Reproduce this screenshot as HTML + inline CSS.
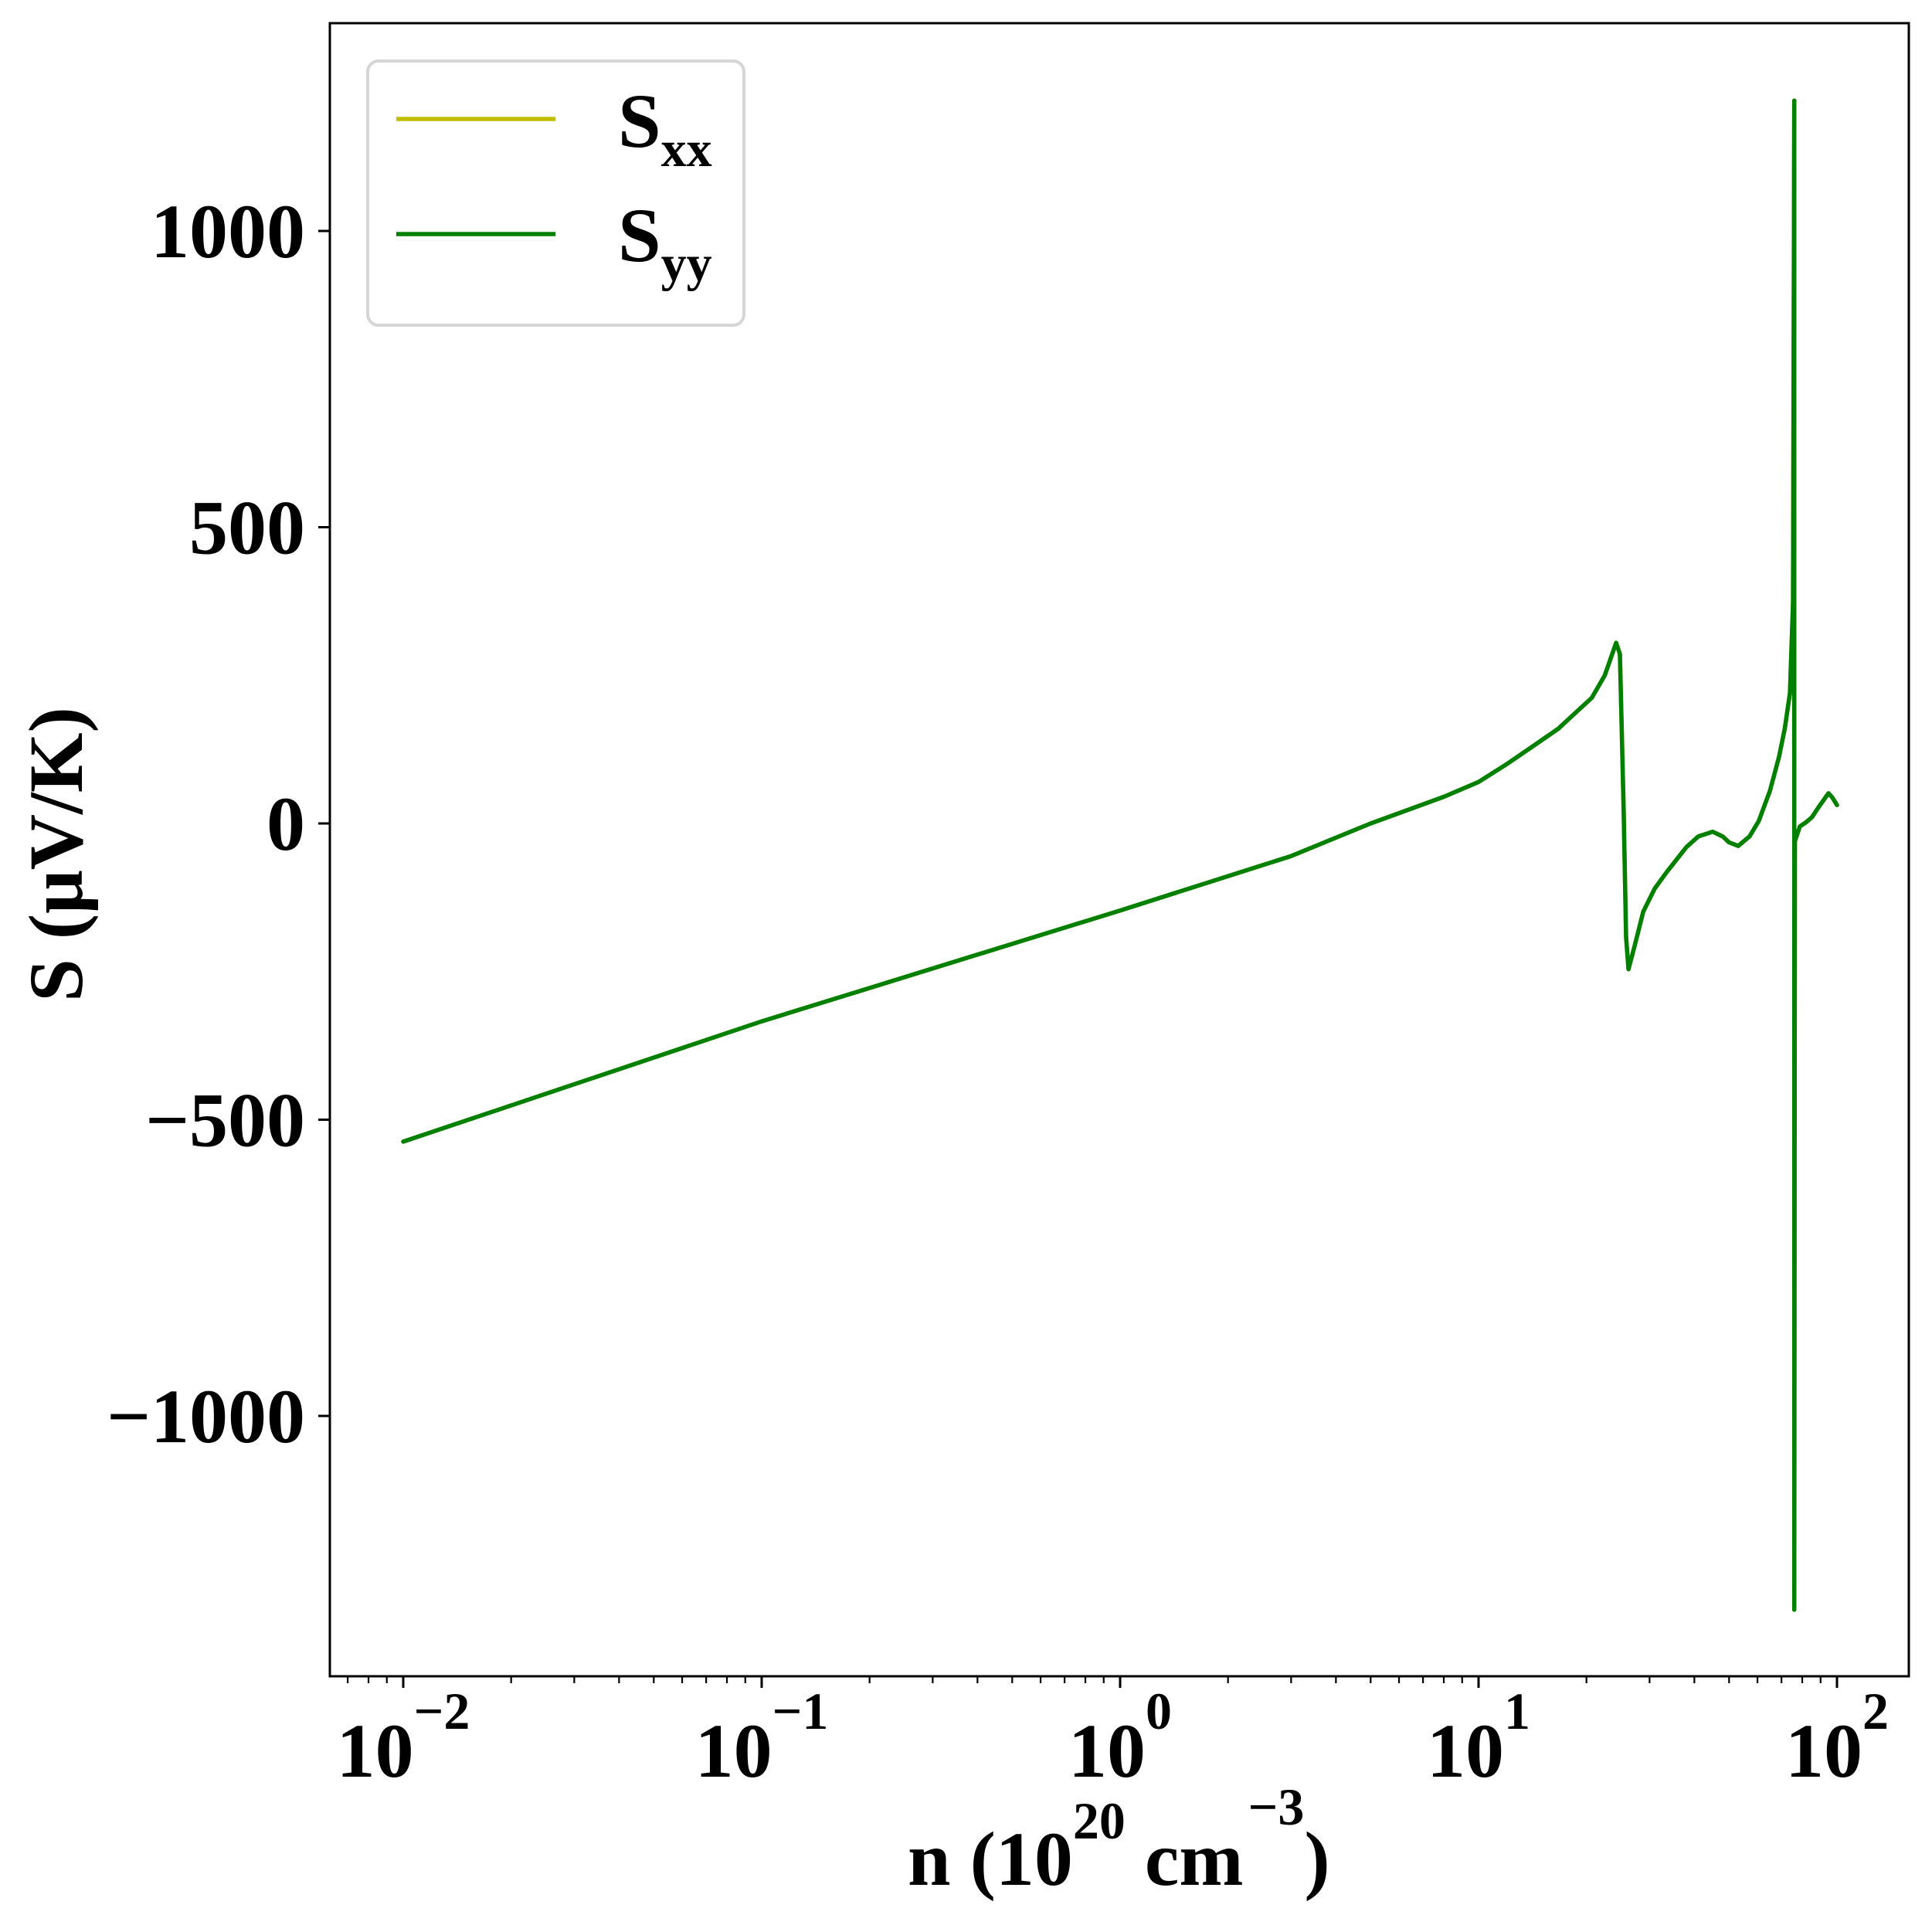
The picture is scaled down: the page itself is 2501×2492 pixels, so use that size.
<!DOCTYPE html>
<html><head><meta charset="utf-8"><style>
html,body{margin:0;padding:0;background:#fff;}
svg{display:block;font-family:"Liberation Serif","Times New Roman",serif;font-weight:bold;}
text{font-family:"Liberation Serif","Times New Roman",serif;font-weight:bold;}
</style></head><body>
<svg id="chart" width="2501" height="2492" viewBox="0 0 2501 2492" xmlns="http://www.w3.org/2000/svg">
<rect x="0" y="0" width="2501" height="2492" fill="#fff"/>
<g id="plot"></g>
<g id="axes"></g>
<g>
 <rect x="476" y="79" width="487" height="342" rx="14" fill="#fff" fill-opacity="0.8" stroke="#d6d6d6" stroke-width="4"/>
 <line x1="513" y1="154" x2="719" y2="154" stroke="#bfbf00" stroke-width="5.5"/>
 <text x="800" y="190" font-size="100">S<tspan font-size="66" dy="25">xx</tspan></text>
 <line x1="513" y1="303" x2="719" y2="303" stroke="#008000" stroke-width="5.5"/>
 <text x="800" y="338" font-size="100">S<tspan font-size="66" dy="25">yy</tspan></text>
</g>
<text x="1175" y="2440" font-size="100">n (10<tspan font-size="68" dy="-60">20</tspan><tspan dy="60"> cm</tspan><tspan font-size="68" dy="-78" dx="6">−3</tspan><tspan dy="78">)</tspan></text>
<text transform="translate(106,1106) rotate(-90)" text-anchor="middle" font-size="100">S (μV/K)</text>
</svg>
<script>
// data
const nValues = [0.01,0.1,1,3,5,8,10,11.9,14,16.7,18.5,20.7,22.5,24.2,24.8,25.4,25.8,26.2,27.3,28.8,31,33.4,36,38.0,41,45.0,48,50,53.0,57,60.5,65,68.9,71.5,73.9,75.4,76.0,76.0,76.3,78.8,81.6,85,89,94.7,97,100];
const sxxValues = [-537,-334,-147,-55,0,45,70,99,128,160,185,212,250,305,286,25,-192,-246,-205,-149,-110,-83,-58,-40,-22,-14,-22,-32,-38,-22,4,55,112,160,220,373,1220,-1327,-30,-5,1,10,28,51,44,31];
const syyValues = [-537,-334,-147,-55,0,45,70,99,128,160,185,212,250,305,286,25,-192,-246,-205,-149,-110,-83,-58,-40,-22,-14,-22,-32,-38,-22,4,55,112,160,220,373,1220,-1327,-30,-5,1,10,28,51,44,31];
const yTicks = [-1000,-500,0,500,1000];
const yTickLabels = ["−1000","−500","0","500","1000"];
const xTickExps = [-2,-1,0,1,2];
const xTickLabels = ["−2","−1","0","1","2"];

const NS="http://www.w3.org/2000/svg";
const L=427,R=2471,T=30,B=2170;
const xPos = n => 522 + (Math.log10(n)+2)*464;
const yPos = v => 1066 - v*0.767;
const plot=document.getElementById('plot'), axes=document.getElementById('axes');
function mk(tag,attrs,parent){const e=document.createElementNS(NS,tag);for(const k in attrs)e.setAttribute(k,attrs[k]);parent.appendChild(e);return e;}

function series(vals,color,name){
  const d=vals.map((v,i)=>(i?'L':'M')+xPos(nValues[i]).toFixed(1)+','+yPos(v).toFixed(1)).join(' ');
  const p=mk('path',{d:d,fill:'none',stroke:color,'stroke-width':5.5,'stroke-linejoin':'round','stroke-linecap':'round'},plot);
  
  
}
series(sxxValues,'#bfbf00','series-sxx');
series(syyValues,'#008000','series-syy');

const frame=mk('rect',{x:L,y:T,width:R-L,height:B-T,fill:'none',stroke:'#000','stroke-width':3},axes);



yTicks.forEach((v,i)=>{
  const y=yPos(v);
  const t=mk('line',{x1:L-15,y1:y,x2:L,y2:y,stroke:'#000','stroke-width':3},axes);
  
  
  const lab=mk('text',{x:395,y:y+34,'text-anchor':'end','font-size':100},axes);
  lab.textContent=yTickLabels[i];
  
  
});
for(let e=-3;e<=2;e++){for(let k=2;k<=9;k++){const n=k*Math.pow(10,e);const x=xPos(n);if(x<=L||x>=R)continue;
  const m=mk('line',{x1:x,y1:B,x2:x,y2:B+9,stroke:'#000','stroke-width':2.2},axes);
  
  
}}
xTickExps.forEach((e,i)=>{
  const x=xPos(Math.pow(10,e));
  const t=mk('line',{x1:x,y1:B,x2:x,y2:B+15,stroke:'#000','stroke-width':3},axes);
  
  
  const lab=mk('text',{x:x,y:2300,'font-size':100,'text-anchor':'middle'},axes);
  
  
  lab.appendChild(document.createTextNode('10'));
  const s=mk('tspan',{'font-size':68,dy:-62},lab);
  s.textContent=xTickLabels[i];
});
</script>
</body></html>
